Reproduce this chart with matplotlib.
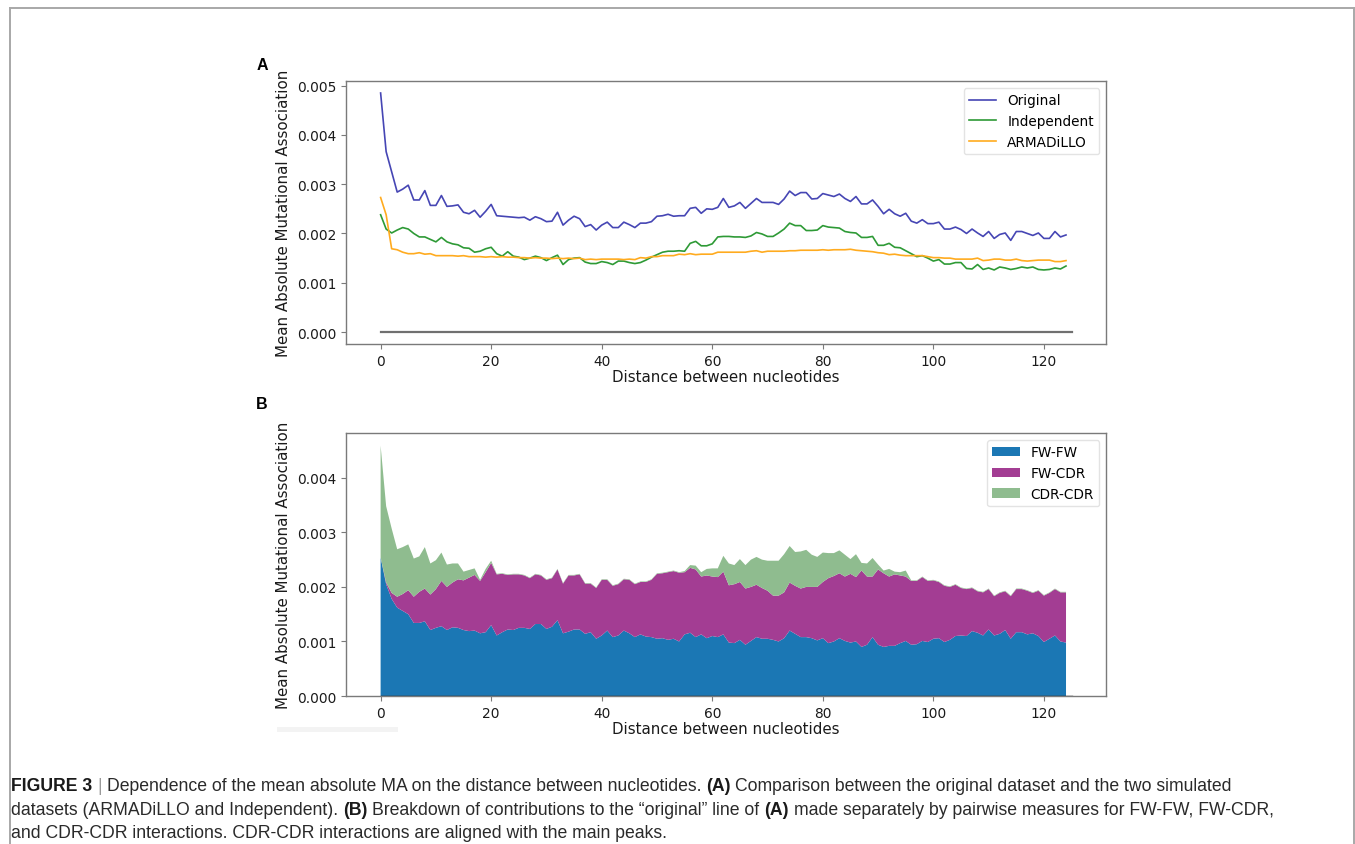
import numpy as np
import matplotlib.pyplot as plt
from matplotlib.lines import Line2D
from matplotlib.patches import Rectangle

# distance between nucleotides
dist = np.arange(125)

# panel A: mean absolute MA (x 1e-3)
original = np.array([
    4.85, 3.66, 3.25, 2.84, 2.90, 2.98, 2.68, 2.68, 2.87, 2.57,
    2.57, 2.77, 2.55, 2.56, 2.58, 2.43, 2.40, 2.47, 2.33, 2.45,
    2.59, 2.36, 2.35, 2.34, 2.33, 2.32, 2.33, 2.27, 2.34, 2.30,
    2.24, 2.25, 2.43, 2.17, 2.27, 2.35, 2.30, 2.14, 2.18, 2.07,
    2.17, 2.23, 2.12, 2.12, 2.23, 2.18, 2.12, 2.21, 2.21, 2.24,
    2.35, 2.36, 2.39, 2.35, 2.36, 2.36, 2.51, 2.53, 2.41, 2.50,
    2.49, 2.53, 2.71, 2.53, 2.56, 2.63, 2.51, 2.61, 2.71, 2.63,
    2.63, 2.63, 2.59, 2.70, 2.86, 2.77, 2.83, 2.83, 2.70, 2.71,
    2.81, 2.78, 2.75, 2.80, 2.71, 2.65, 2.75, 2.60, 2.60, 2.68,
    2.55, 2.40, 2.49, 2.40, 2.35, 2.41, 2.25, 2.21, 2.28, 2.20,
    2.20, 2.23, 2.09, 2.09, 2.13, 2.08, 2.00, 2.09, 2.01, 1.94,
    2.04, 1.90, 1.98, 2.01, 1.86, 2.04, 2.04, 2.00, 1.96, 2.01,
    1.90, 1.90, 2.04, 1.93, 1.97]) * 1e-3

independent = np.array([
    2.38, 2.09, 2.01, 2.07, 2.12, 2.09, 2.00, 1.93, 1.93, 1.88,
    1.83, 1.92, 1.83, 1.79, 1.77, 1.71, 1.70, 1.62, 1.64, 1.69,
    1.72, 1.59, 1.54, 1.63, 1.54, 1.52, 1.47, 1.50, 1.54, 1.51,
    1.45, 1.51, 1.56, 1.37, 1.47, 1.50, 1.51, 1.42, 1.39, 1.39,
    1.43, 1.41, 1.37, 1.44, 1.44, 1.41, 1.39, 1.41, 1.46, 1.52,
    1.57, 1.62, 1.64, 1.64, 1.65, 1.64, 1.80, 1.84, 1.75, 1.75,
    1.79, 1.93, 1.94, 1.94, 1.93, 1.93, 1.92, 1.95, 2.02, 1.99,
    1.94, 1.94, 2.01, 2.09, 2.21, 2.16, 2.16, 2.06, 2.06, 2.07,
    2.16, 2.13, 2.12, 2.11, 2.04, 2.02, 2.01, 1.92, 1.92, 1.94,
    1.76, 1.76, 1.80, 1.72, 1.71, 1.65, 1.59, 1.53, 1.55, 1.50,
    1.44, 1.47, 1.38, 1.38, 1.41, 1.41, 1.29, 1.28, 1.37, 1.27,
    1.30, 1.26, 1.32, 1.30, 1.27, 1.29, 1.32, 1.30, 1.32, 1.27,
    1.26, 1.27, 1.30, 1.28, 1.34]) * 1e-3

armadillo = np.array([
    2.73, 2.38, 1.69, 1.67, 1.62, 1.59, 1.59, 1.61, 1.58, 1.59,
    1.55, 1.55, 1.55, 1.55, 1.54, 1.55, 1.53, 1.53, 1.53, 1.52,
    1.53, 1.52, 1.53, 1.52, 1.52, 1.51, 1.51, 1.50, 1.51, 1.50,
    1.50, 1.49, 1.50, 1.49, 1.50, 1.49, 1.50, 1.47, 1.48, 1.47,
    1.48, 1.48, 1.48, 1.48, 1.47, 1.48, 1.47, 1.51, 1.50, 1.53,
    1.53, 1.55, 1.55, 1.55, 1.58, 1.57, 1.59, 1.57, 1.58, 1.58,
    1.58, 1.62, 1.62, 1.62, 1.62, 1.62, 1.62, 1.64, 1.65, 1.62,
    1.64, 1.64, 1.64, 1.64, 1.65, 1.65, 1.66, 1.66, 1.66, 1.66,
    1.67, 1.66, 1.67, 1.67, 1.67, 1.68, 1.66, 1.65, 1.64, 1.63,
    1.61, 1.60, 1.57, 1.58, 1.56, 1.55, 1.55, 1.55, 1.55, 1.53,
    1.51, 1.51, 1.50, 1.50, 1.48, 1.48, 1.48, 1.48, 1.50, 1.45,
    1.46, 1.48, 1.48, 1.46, 1.46, 1.48, 1.45, 1.44, 1.45, 1.46,
    1.46, 1.46, 1.43, 1.43, 1.45]) * 1e-3

# panel B: contributions of each interaction type (x 1e-3)
fw_fw = np.array([
    2.54, 2.05, 1.78, 1.62, 1.56, 1.50, 1.34, 1.34, 1.37, 1.21,
    1.25, 1.28, 1.21, 1.26, 1.25, 1.21, 1.19, 1.20, 1.15, 1.17,
    1.30, 1.11, 1.17, 1.22, 1.21, 1.25, 1.25, 1.23, 1.32, 1.32,
    1.23, 1.27, 1.39, 1.15, 1.18, 1.22, 1.22, 1.14, 1.17, 1.05,
    1.11, 1.20, 1.08, 1.11, 1.20, 1.15, 1.08, 1.13, 1.09, 1.08,
    1.05, 1.06, 1.03, 1.05, 1.00, 1.13, 1.16, 1.08, 1.13, 1.06,
    1.10, 1.08, 1.13, 0.98, 0.97, 1.03, 0.94, 1.01, 1.08, 1.05,
    1.05, 1.03, 1.00, 1.06, 1.20, 1.14, 1.08, 1.08, 1.06, 1.02,
    1.06, 0.97, 1.00, 1.06, 1.01, 0.98, 1.00, 0.90, 0.94, 1.08,
    0.94, 0.90, 0.92, 0.92, 0.97, 1.01, 0.94, 0.95, 1.01, 0.99,
    1.05, 1.06, 0.99, 1.03, 1.10, 1.11, 1.10, 1.19, 1.16, 1.11,
    1.22, 1.11, 1.14, 1.21, 1.05, 1.17, 1.17, 1.13, 1.15, 1.10,
    0.99, 1.05, 1.11, 1.00, 0.98]) * 1e-3

fw_cdr = np.array([
    0.00, 0.03, 0.11, 0.20, 0.31, 0.44, 0.48, 0.57, 0.60, 0.65,
    0.71, 0.83, 0.79, 0.82, 0.89, 0.91, 0.98, 1.02, 0.96, 1.10,
    1.14, 1.12, 1.07, 1.00, 1.02, 0.98, 0.96, 0.93, 0.91, 0.89,
    0.90, 0.89, 0.93, 0.91, 1.03, 0.99, 1.01, 0.92, 0.89, 0.93,
    1.02, 0.93, 0.94, 0.94, 0.94, 0.98, 0.97, 0.96, 1.00, 1.05,
    1.19, 1.19, 1.24, 1.24, 1.26, 1.14, 1.19, 1.24, 1.06, 1.15,
    1.09, 1.10, 1.15, 1.05, 1.08, 1.06, 1.03, 0.99, 0.96, 0.93,
    0.88, 0.81, 0.84, 0.84, 0.88, 0.88, 0.89, 0.92, 0.94, 0.98,
    1.03, 1.19, 1.20, 1.19, 1.18, 1.26, 1.18, 1.40, 1.25, 1.11,
    1.38, 1.35, 1.27, 1.31, 1.24, 1.18, 1.17, 1.16, 1.17, 1.12,
    1.07, 1.03, 1.03, 0.97, 0.94, 0.87, 0.86, 0.79, 0.76, 0.79,
    0.74, 0.72, 0.75, 0.71, 0.78, 0.79, 0.79, 0.80, 0.74, 0.83,
    0.85, 0.84, 0.85, 0.90, 0.92]) * 1e-3

cdr_cdr = np.array([
    2.05, 1.40, 1.18, 0.87, 0.86, 0.84, 0.70, 0.65, 0.76, 0.57,
    0.53, 0.52, 0.41, 0.35, 0.29, 0.16, 0.14, 0.12, 0.02, 0.06,
    0.04, 0.01, 0.01, 0.01, 0.01, 0.01, 0.01, 0.01, 0.01, 0.01,
    0.01, 0.01, 0.01, 0.01, 0.01, 0.01, 0.01, 0.01, 0.01, 0.01,
    0.01, 0.01, 0.01, 0.01, 0.01, 0.01, 0.01, 0.01, 0.01, 0.01,
    0.01, 0.01, 0.01, 0.01, 0.01, 0.02, 0.05, 0.07, 0.08, 0.12,
    0.15, 0.16, 0.29, 0.40, 0.35, 0.42, 0.43, 0.50, 0.51, 0.52,
    0.55, 0.64, 0.64, 0.70, 0.67, 0.62, 0.68, 0.68, 0.59, 0.55,
    0.54, 0.46, 0.42, 0.42, 0.40, 0.27, 0.42, 0.14, 0.24, 0.34,
    0.09, 0.05, 0.14, 0.05, 0.06, 0.11, 0.01, 0.01, 0.01, 0.01,
    0.01, 0.01, 0.01, 0.01, 0.01, 0.01, 0.01, 0.01, 0.01, 0.01,
    0.01, 0.01, 0.01, 0.01, 0.01, 0.01, 0.01, 0.01, 0.01, 0.01,
    0.01, 0.01, 0.01, 0.01, 0.01]) * 1e-3

x_end = 125
xticks = [0, 20, 40, 60, 80, 100, 120]
xlabel = "Distance between nucleotides"
ylabel = "Mean Absolute Mutational Association"

TICK_FS = 9.9
LABEL_FS = 10.8
LEGEND_FS = 9.8


def style_axes(ax):
    for sp in ax.spines.values():
        sp.set_color("#7a7a7a")
        sp.set_linewidth(1.0)
    ax.tick_params(labelsize=TICK_FS, colors="#7a7a7a", labelcolor="#1a1a1a")
    ax.set_xticks(xticks)
    ax.yaxis.set_major_formatter(plt.FormatStrFormatter("%.3f"))
    ax.set_xlabel(xlabel, fontsize=LABEL_FS, color="#1a1a1a", labelpad=1)
    ax.set_ylabel(ylabel, fontsize=LABEL_FS, color="#1a1a1a")


fig = plt.figure(figsize=(13.55, 8.45), dpi=100)

# A: three datasets compared
axA = fig.add_axes([0.2554, 0.5917, 0.5609, 0.3112])
axA.plot(dist, original, color="#4646b4", lw=1.2, label="Original")
axA.plot(dist, independent, color="#2e9a36", lw=1.2, label="Independent")
axA.plot(dist, armadillo, color="#ffab1f", lw=1.2, label="ARMADiLLO")
axA.plot([0, x_end], [0, 0], color="#707070", lw=1.6)
axA.set_yticks(np.arange(0, 0.0051, 0.001))
style_axes(axA)
axA.legend(loc="upper right", fontsize=LEGEND_FS, edgecolor="#dddddd")

# B: breakdown of the original line
axB = fig.add_axes([0.2554, 0.1751, 0.5609, 0.3112])
axB.stackplot(dist, fw_fw, fw_cdr, cdr_cdr,
              colors=["#1b77b4", "#a33d93", "#8fbc8f"],
              labels=["FW-FW", "FW-CDR", "CDR-CDR"])
axB.plot([0, x_end], [0, 0], color="black", lw=1.0)
axB.set_yticks(np.arange(0, 0.0041, 0.001))
style_axes(axB)
axB.legend(loc="upper right", fontsize=LEGEND_FS, edgecolor="#dddddd")

# panel letters
fig.text(262 / 1355, 1 - 65 / 845, "A", fontsize=11.5, fontweight="bold",
         family="Liberation Sans", ha="center", va="center")
fig.text(262 / 1355, 1 - 405 / 845, "B", fontsize=11.5, fontweight="bold",
         family="Liberation Sans", ha="center", va="center")

# faint strip under panel B
fig.add_artist(Rectangle((277 / 1355, 1 - 733 / 845), 121 / 1355, 5 / 845,
                         transform=fig.transFigure, color="#f3f3f3", lw=0))

# frame around the figure
W, H = 1355, 845
fcol = "#a8a8a8"
for xs, ys in [((9.5, 9.5), (8.5, H)), ((9.5, 1353.5), (8.5, 8.5)),
               ((1353.5, 1353.5), (8.5, H))]:
    fig.add_artist(Line2D([x / W for x in xs], [1 - y / H for y in ys],
                          transform=fig.transFigure, color=fcol, lw=1.4))

# caption, built piece by piece so that bold runs sit inline
CAP_FS = 12.7
CAP_FONT = "Liberation Sans"
space = 0.278 * CAP_FS
caption = [
    [("FIGURE 3", "bold", "#1a1a1a"), ("|", "normal", "#9a9a9a"),
     ("Dependence of the mean absolute MA on the distance between nucleotides.", "normal", "#2a2a2a"),
     ("(A)", "bold", "#1a1a1a"),
     ("Comparison between the original dataset and the two simulated", "normal", "#2a2a2a")],
    [("datasets (ARMADiLLO and Independent).", "normal", "#2a2a2a"), ("(B)", "bold", "#1a1a1a"),
     ("Breakdown of contributions to the \u201coriginal\u201d line of", "normal", "#2a2a2a"),
     ("(A)", "bold", "#1a1a1a"),
     ("made separately by pairwise measures for FW-FW, FW-CDR,", "normal", "#2a2a2a")],
    [("and CDR-CDR interactions. CDR-CDR interactions are aligned with the main peaks.", "normal", "#2a2a2a")],
]
line_bottoms = [795, 819, 842]
for pieces, yb in zip(caption, line_bottoms):
    prev = None
    for txt, weight, col in pieces:
        if prev is None:
            prev = fig.text(11 / W, 1 - yb / H, txt, fontsize=CAP_FS, fontweight=weight,
                            family=CAP_FONT, color=col, ha="left", va="bottom")
        else:
            prev = axA.annotate(txt, xy=(1, 0), xycoords=prev, xytext=(space, 0),
                                textcoords="offset points", fontsize=CAP_FS,
                                fontweight=weight, family=CAP_FONT, color=col,
                                ha="left", va="bottom", annotation_clip=False)

fig.savefig("out.png", dpi=100)
